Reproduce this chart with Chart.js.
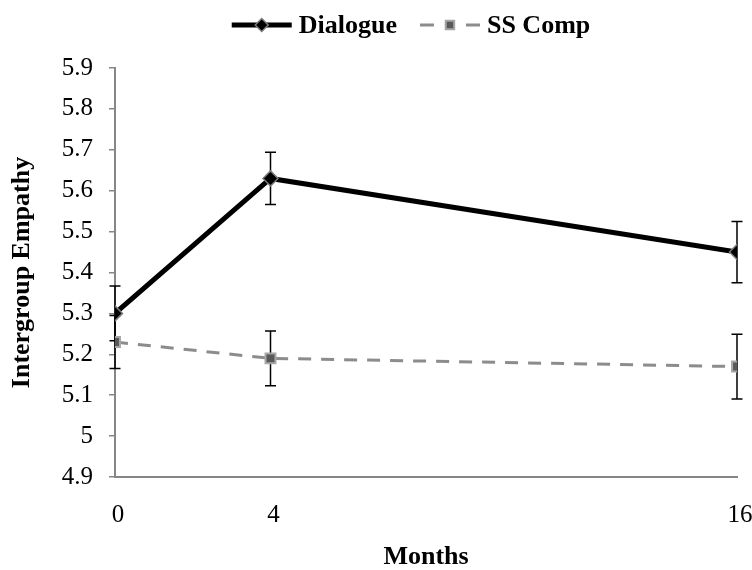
<!DOCTYPE html>
<html lang="en">
  <head>
    <meta charset="UTF-8" />
    <title>Intergroup Empathy</title>
    <script src="https://cdn.jsdelivr.net/npm/chart.js@4"></script>
    <style>
      body { margin: 0; background: #fff; }
      #wrap { width: 752px; height: 570px; }
    </style>
  </head>
  <body>
    <div id="wrap"><canvas id="myChart" width="752" height="570"></canvas></div>

    <script>
      // Werte
      const months = [0, 4, 16];
      const monthTicks = [0, 4, 16];
      const dialogue = [5.30, 5.63, 5.45];
      const dialogueErr = [0.067, 0.064, 0.075];
      const ssComp = [5.23, 5.19, 5.17];
      const ssCompErr = [0.065, 0.067, 0.079];

      const serif = "'Liberation Serif', 'Times New Roman', serif";
      const axisGray = '#868686';

      // Fehlerbalken zeichnen
      const errorBars = {
        id: 'errorBars',
        beforeDatasetsDraw(chart) {
          const ctx = chart.ctx;
          const x = chart.scales.x, y = chart.scales.y;
          ctx.save();
          ctx.strokeStyle = '#000';
          ctx.lineWidth = 1.5;
          chart.data.datasets.forEach(ds => {
            ds.data.forEach((p, i) => {
              const px = x.getPixelForValue(p.x);
              const top = y.getPixelForValue(p.y + ds.err[i]);
              const bot = y.getPixelForValue(p.y - ds.err[i]);
              ctx.beginPath();
              ctx.moveTo(px, top); ctx.lineTo(px, bot);
              ctx.moveTo(px - 5.5, top); ctx.lineTo(px + 5.5, top);
              ctx.moveTo(px - 5.5, bot); ctx.lineTo(px + 5.5, bot);
              ctx.stroke();
            });
          });
          ctx.restore();
        }
      };

      // eigene Legende oben
      const topLegend = {
        id: 'topLegend',
        afterDraw(chart) {
          const ctx = chart.ctx;
          const cy = 25, sample = 60, gap = 7, itemGap = 23;
          ctx.save();
          ctx.font = 'bold 26px ' + serif;
          const widths = chart.data.datasets.map(ds => sample + gap + ctx.measureText(ds.label).width);
          const total = widths.reduce((a, b) => a + b, 0) + itemGap * (widths.length - 1);
          let x = 411 - total / 2;
          chart.data.datasets.forEach((ds, i) => {
            ctx.strokeStyle = ds.borderColor;
            ctx.lineWidth = ds.borderWidth;
            ctx.setLineDash([]);
            ctx.beginPath();
            if (ds.borderDash) {
              ctx.moveTo(x, cy); ctx.lineTo(x + 14, cy);
              ctx.moveTo(x + sample - 14, cy); ctx.lineTo(x + sample, cy);
            } else {
              ctx.moveTo(x, cy); ctx.lineTo(x + sample, cy);
            }
            ctx.stroke();
            ctx.fillStyle = ds.pointBackgroundColor;
            ctx.strokeStyle = ds.pointBorderColor;
            ctx.lineWidth = ds.pointBorderWidth;
            Chart.helpers.drawPoint(ctx, {
              pointStyle: ds.pointStyle, radius: ds.pointRadius - 1,
              borderWidth: ds.pointBorderWidth
            }, x + sample / 2, cy);
            ctx.font = 'bold 26px ' + serif;
            ctx.textBaseline = 'middle';
            ctx.fillStyle = '#000';
            ctx.fillText(ds.label, x + sample + gap, cy + 1);
            x += widths[i] + itemGap;
          });
          ctx.restore();
        }
      };

      const ctx = document.getElementById('myChart').getContext('2d');
      const myChart = new Chart(ctx, {
        type: 'line',
        data: {
          datasets: [
            {
              label: 'Dialogue',
              data: months.map((m, i) => ({ x: m, y: dialogue[i] })),
              err: dialogueErr,
              borderColor: '#000',
              borderWidth: 5,
              pointStyle: 'rectRot',
              pointRadius: 7.5,
              pointBackgroundColor: '#000',
              pointBorderColor: '#7a7a7a',
              pointBorderWidth: 1.5,
              tension: 0
            },
            {
              label: 'SS Comp',
              data: months.map((m, i) => ({ x: m, y: ssComp[i] })),
              err: ssCompErr,
              borderColor: '#8c8c8c',
              borderWidth: 3,
              borderDash: [13, 10],
              pointStyle: 'rect',
              pointRadius: 7,
              pointBackgroundColor: '#595959',
              pointBorderColor: '#a6a6a6',
              pointBorderWidth: 2,
              tension: 0
            }
          ]
        },
        options: {
          responsive: false,
          animation: false,
          layout: { padding: { top: 68, right: 15, left: 0, bottom: 0 } },
          plugins: {
            legend: { display: false },
            tooltip: { enabled: false }
          },
          scales: {
            x: {
              type: 'linear',
              min: 0,
              max: 16,
              afterBuildTicks: s => { s.ticks = monthTicks.map(v => ({ value: v })); },
              afterFit: s => { s.height = 93; s.paddingRight = 0; s.paddingLeft = 0; },
              grid: { display: false },
              border: { display: true, color: axisGray, width: 2 },
              ticks: {
                color: '#000',
                padding: 15,
                labelOffset: 3,
                maxRotation: 0,
                font: { family: serif, size: 25 }
              },
              title: {
                display: true,
                text: 'Months',
                color: '#000',
                padding: { top: 0, bottom: 0 },
                font: { family: serif, size: 26, weight: 'bold', lineHeight: 1 }
              }
            },
            y: {
              min: 4.9,
              max: 5.9,
              afterFit: s => { s.width = 115; },
              grid: {
                drawOnChartArea: false,
                drawTicks: true,
                tickLength: 6,
                color: axisGray,
                lineWidth: 1.5
              },
              border: { display: true, color: axisGray, width: 2 },
              ticks: {
                stepSize: 0.1,
                color: '#000',
                padding: 16,
                font: { family: serif, size: 25 },
                callback: v => String(Number(v.toFixed(1)))
              },
              title: {
                display: true,
                text: 'Intergroup Empathy',
                color: '#000',
                padding: { top: 9, bottom: 0 },
                font: { family: serif, size: 26, weight: 'bold', lineHeight: 1 }
              }
            }
          }
        },
        plugins: [errorBars, topLegend]
      });
    </script>
  </body>
</html>
